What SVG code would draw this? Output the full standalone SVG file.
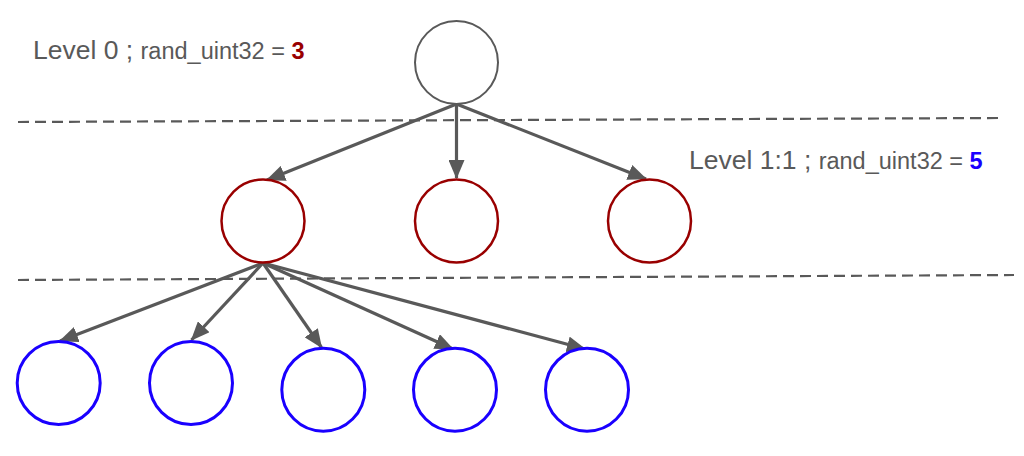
<svg xmlns="http://www.w3.org/2000/svg" width="1024" height="456" viewBox="0 0 1024 456">
<style>
.lbl{font-family:"Liberation Sans",Arial,sans-serif;fill:#595959}
.big{font-size:26.5px}
.sm{font-size:23.5px}
.dash{stroke:#595959;stroke-width:2.2;stroke-dasharray:11 6;fill:none}
.edge{stroke:#595959;stroke-width:3.2;fill:none;marker-end:url(#ah)}
.n0{fill:#fff;stroke:#595959;stroke-width:2}
.n1{fill:#fff;stroke:#990000;stroke-width:2.5}
.n2{fill:#fff;stroke:#1a00ff;stroke-width:3}
</style>
<defs>
<marker id="ah" viewBox="0 0 19 16" refX="18" refY="8" markerWidth="19" markerHeight="16" markerUnits="userSpaceOnUse" orient="auto">
<path d="M0,0 L19,8 L0,16 z" fill="#595959"/>
</marker>
</defs>
<rect width="1024" height="456" fill="#fff"/>
<g id="separators">
<line class="dash" x1="18" y1="122" x2="998" y2="118"/>
<line class="dash" x1="18" y1="280" x2="1014" y2="275"/>
</g>
<g id="connectors">
<line class="edge" x1="456.5" y1="104" x2="267" y2="180"/>
<line class="edge" x1="456.5" y1="104" x2="456.5" y2="178"/>
<line class="edge" x1="456.5" y1="104" x2="646" y2="179"/>
<line class="edge" x1="263" y1="263" x2="60" y2="341"/>
<line class="edge" x1="263" y1="263" x2="191.5" y2="340"/>
<line class="edge" x1="263" y1="263" x2="321.5" y2="347.5"/>
<line class="edge" x1="263" y1="263" x2="453" y2="349"/>
<line class="edge" x1="263" y1="263" x2="585" y2="349"/>
</g>
<g id="root"><circle class="n0" cx="456.5" cy="62.5" r="41.5"/></g>
<g id="l1a"><circle class="n1" cx="263" cy="221" r="41.5"/></g>
<g id="l1b"><circle class="n1" cx="456.5" cy="221" r="41.5"/></g>
<g id="l1c"><circle class="n1" cx="649.5" cy="221" r="41.5"/></g>
<g id="l2a"><circle class="n2" cx="58.7" cy="383" r="41.5"/></g>
<g id="l2b"><circle class="n2" cx="191" cy="383" r="41.5"/></g>
<g id="l2c"><circle class="n2" cx="323.3" cy="389.7" r="41.5"/></g>
<g id="l2d"><circle class="n2" cx="455" cy="389.7" r="41.5"/></g>
<g id="l2e"><circle class="n2" cx="587" cy="389.7" r="41.5"/></g>
<g id="label0">
<text class="lbl" x="33" y="58.5"><tspan class="big">Level 0 ; </tspan><tspan class="sm">rand_uint32 = </tspan><tspan class="sm" font-weight="bold" fill="#990000">3</tspan></text>
</g>
<g id="label1">
<text class="lbl" x="689" y="168.5"><tspan class="big">Level 1:1 ; </tspan><tspan class="sm">rand_uint32 = </tspan><tspan class="sm" font-weight="bold" fill="#1a00ff">5</tspan></text>
</g>
</svg>
